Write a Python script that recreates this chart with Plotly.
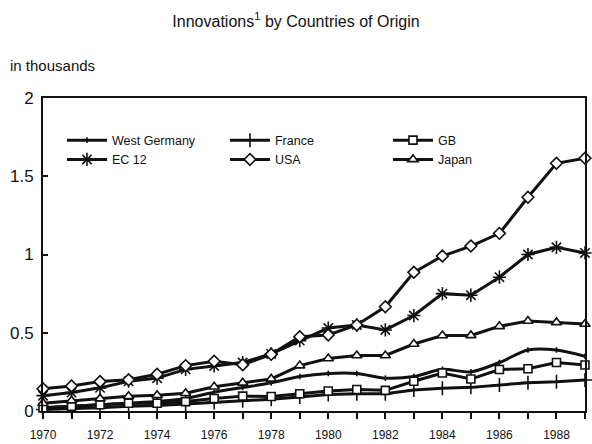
import plotly.graph_objects as go

years = list(range(1970, 1990))

west_germany = [0.02, 0.03, 0.04, 0.05, 0.06, 0.08, 0.12, 0.15, 0.18, 0.22,
                0.24, 0.24, 0.21, 0.22, 0.266, 0.25, 0.31, 0.39, 0.39, 0.35]
france = [0.01, 0.015, 0.02, 0.03, 0.035, 0.045, 0.055, 0.065, 0.075, 0.09,
          0.105, 0.11, 0.11, 0.134, 0.145, 0.151, 0.166, 0.181, 0.187, 0.198]
gb = [0.02, 0.03, 0.04, 0.05, 0.05, 0.06, 0.08, 0.095, 0.093, 0.11,
      0.128, 0.137, 0.132, 0.19, 0.243, 0.204, 0.265, 0.27, 0.31, 0.294]
ec12 = [0.098, 0.118, 0.148, 0.19, 0.21, 0.266, 0.288, 0.31, 0.365, 0.45,
        0.53, 0.55, 0.518, 0.61, 0.75, 0.74, 0.855, 1.0, 1.046, 1.01]
usa = [0.142, 0.16, 0.188, 0.2, 0.235, 0.29, 0.318, 0.295, 0.362, 0.475,
       0.486, 0.55, 0.666, 0.886, 0.99, 1.054, 1.135, 1.366, 1.583, 1.615]
japan = [0.05, 0.066, 0.079, 0.094, 0.1, 0.113, 0.155, 0.18, 0.205, 0.29,
         0.335, 0.355, 0.355, 0.428, 0.482, 0.483, 0.541, 0.575, 0.566, 0.556]

x_tick_vals = years
x_tick_text = [str(y) if y % 2 == 0 else "" for y in years]
y_tick_vals = [0, 0.5, 1, 1.5, 2]
y_tick_text = ["0", "0.5", "1", "1.5", "2"]

FONT = "Liberation Sans, Arial, sans-serif"
BLACK = "#111111"

series = [
    ("West Germany", west_germany, dict(symbol="line-ns-open", size=4), "spline"),
    ("France", france, dict(symbol="cross-thin-open", size=10), "linear"),
    ("GB", gb, dict(symbol="square", size=8, color="white"), "linear"),
    ("EC 12", ec12, dict(symbol="asterisk-open", size=11), "linear"),
    ("USA", usa, dict(symbol="diamond", size=9, color="white"), "linear"),
    ("Japan", japan, dict(symbol="triangle-up", size=9, color="white"), "linear"),
]

fig = go.Figure()
for name, vals, mk, shape in series:
    marker = dict(mk)
    marker.setdefault("color", BLACK)
    marker["line"] = dict(color=BLACK, width=1.6)
    fig.add_trace(go.Scatter(
        x=years, y=vals, name=name, mode="lines+markers",
        line=dict(color=BLACK, width=3, shape=shape, smoothing=0.8),
        marker=marker, cliponaxis=False,
    ))

fig.update_layout(
    width=592, height=444,
    margin=dict(l=43, r=7, t=98, b=33),
    paper_bgcolor="white", plot_bgcolor="white",
    font=dict(family=FONT, color=BLACK),
    title=dict(text="Innovations<sup>1</sup> by Countries of Origin",
               x=0.5, xanchor="center", y=0.952, yanchor="middle",
               font=dict(size=16, family=FONT, color=BLACK)),
    showlegend=True,
    legend=dict(orientation="h", x=0.035, y=0.912, xanchor="left", yanchor="top",
                bgcolor="rgba(0,0,0,0)", font=dict(size=12.5, family=FONT, color=BLACK),
                entrywidth=108, entrywidthmode="pixels", itemwidth=40,
                tracegroupgap=8),
    annotations=[dict(text="in thousands", xref="paper", yref="paper",
                      x=-35 / 542, y=(444 - 33 - 65) / 313,
                      xanchor="left", yanchor="middle", showarrow=False,
                      font=dict(size=15, family=FONT, color=BLACK))],
)

fig.update_xaxes(range=[1970, 1989], tickvals=x_tick_vals, ticktext=x_tick_text,
                 ticks="outside", ticklen=6, tickwidth=1.5, tickcolor=BLACK,
                 showline=True, linecolor=BLACK, linewidth=2, mirror=True,
                 showgrid=False, zeroline=False, ticklabelstandoff=6,
                 automargin=False,
                 tickfont=dict(size=12, family=FONT, color=BLACK))
fig.update_yaxes(range=[0, 2], tickvals=y_tick_vals, ticktext=y_tick_text,
                 ticks="inside", ticklen=5, tickwidth=1.5, tickcolor=BLACK,
                 showline=True, linecolor=BLACK, linewidth=2, mirror=True,
                 showgrid=False, zeroline=False, ticklabelstandoff=4,
                 automargin=False,
                 tickfont=dict(size=17, family=FONT, color=BLACK))

fig.write_html("out.html")
